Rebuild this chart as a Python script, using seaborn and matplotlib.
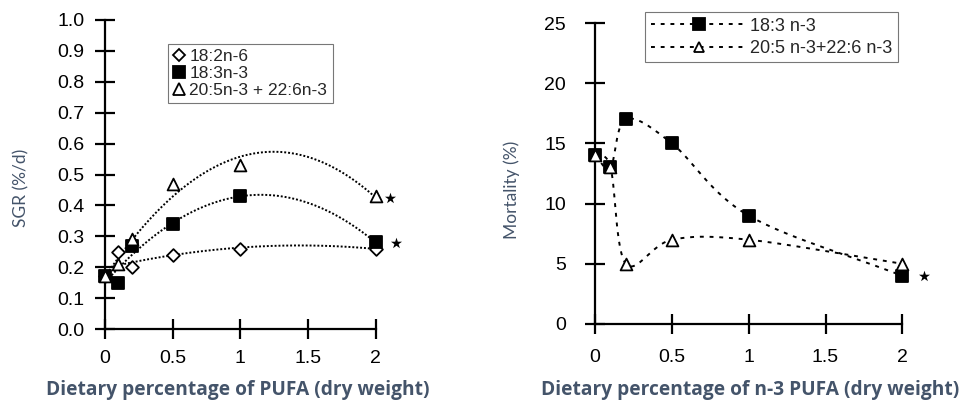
import numpy as np
import pandas as pd
import seaborn as sns
import matplotlib.pyplot as plt
from matplotlib.lines import Line2D

# left panel: SGR vs dietary PUFA
pufa = [0, 0.1, 0.2, 0.5, 1, 2]
sgr_182n6 = [0.17, 0.25, 0.20, 0.24, 0.26, 0.26]
sgr_183n3 = [0.17, 0.15, 0.27, 0.34, 0.43, 0.28]
sgr_hufa = [0.17, 0.21, 0.29, 0.47, 0.53, 0.43]
left_labels = ["18:2n-6", "18:3n-3", "20:5n-3 + 22:6n-3"]

# right panel: mortality vs dietary n-3 PUFA
n3 = [0, 0.1, 0.2, 0.5, 1, 2]
mort_183n3 = [14, 13, 17, 15, 9, 4]
mort_hufa = [14, 13, 5, 7, 7, 5]
right_labels = ["18:3 n-3", "20:5 n-3+22:6 n-3"]

x_ticks = [0, 0.5, 1, 1.5, 2]
x_ticklabels = ["0", "0.5", "1", "1.5", "2"]

LABEL_COLOR = "#44546A"


def catmull_rom(xs, ys, n=30):
    """smooth line through the points (like a spreadsheet 'smoothed line')"""
    p = np.column_stack([xs, ys]).astype(float)
    p = np.vstack([2 * p[0] - p[1], p, 2 * p[-1] - p[-2]])
    out = []
    t = np.linspace(0, 1, n)[:, None]
    for i in range(1, len(p) - 2):
        p0, p1, p2, p3 = p[i - 1], p[i], p[i + 1], p[i + 2]
        seg = 0.5 * ((2 * p1) + (-p0 + p2) * t + (2 * p0 - 5 * p1 + 4 * p2 - p3) * t ** 2
                     + (-p0 + 3 * p1 - 3 * p2 + p3) * t ** 3)
        out.append(seg)
    out = np.vstack(out)
    return out[:, 0], out[:, 1]


def style_axes(ax, xpad, ypad):
    sns.despine(ax=ax)
    for s in ("left", "bottom"):
        ax.spines[s].set_linewidth(1.6)
        ax.spines[s].set_color("black")
    ax.tick_params(direction="inout", length=14, width=1.6, colors="black", labelsize=14)
    ax.tick_params(axis="x", pad=xpad)
    ax.tick_params(axis="y", pad=ypad)
    ax.set_xticks(x_ticks)
    ax.set_xticklabels(x_ticklabels)
    for t in ax.get_xticklabels() + ax.get_yticklabels():
        t.set_family("Liberation Sans")
    ax.set_xlim(0, 2)


sns.set_theme(style="ticks")
plt.rcParams["font.family"] = ["Liberation Sans", "DejaVu Sans"]

fig = plt.figure(figsize=(9.63, 4.0), dpi=100)
ax1 = fig.add_axes([0.109, 0.1775, 0.281, 0.7725])
ax2 = fig.add_axes([0.618, 0.19, 0.319, 0.7525])

# ---- left panel ----
series = [(sgr_182n6, "D", "white", 6.5), (sgr_183n3, "s", "black", 8.5), (sgr_hufa, "^", "white", 8.5)]
xs = np.linspace(0.03, 2, 200)
for vals, mk, fc, ms in series:
    coef = np.polyfit(pufa, vals, 2)
    fit = pd.DataFrame({"x": xs, "y": np.polyval(coef, xs)})
    sns.lineplot(data=fit, x="x", y="y", ax=ax1, color="black", lw=1.4,
                 linestyle=(0, (1, 1)), legend=False)
    df = pd.DataFrame({"x": pufa, "y": vals})
    sns.scatterplot(data=df, x="x", y="y", ax=ax1, marker=mk, s=ms ** 2,
                    facecolor=fc, edgecolor="black", linewidth=1.3,
                    clip_on=False, zorder=5, legend=False)
stars1 = pd.DataFrame({"x": [2.11, 2.15], "y": [sgr_hufa[-1] - 0.005, sgr_183n3[-1] - 0.002]})
sns.scatterplot(data=stars1, x="x", y="y", ax=ax1, marker="*", s=70, color="black",
                linewidth=0, clip_on=False, legend=False)

ax1.set_ylim(0, 1.0)
ax1.set_yticks(np.arange(0, 1.01, 0.1))
ax1.set_yticklabels([f"{v:.1f}" for v in np.arange(0, 1.01, 0.1)])
style_axes(ax1, xpad=8, ypad=8)
ax1.set_xlabel("")
ax1.set_ylabel("SGR (%/d)", family="Lato", fontsize=12.5, color=LABEL_COLOR)
ax1.yaxis.set_label_coords(-0.28, 0.456)

handles1 = [Line2D([], [], ls="none", marker=mk, ms=ms * 0.95, mfc=fc, mec="black", mew=1.3)
            for _, mk, fc, ms in series]
leg1 = ax1.legend(handles1, left_labels, loc="upper left", bbox_to_anchor=(0.232, 0.922),
                  fontsize=12.5, frameon=True, fancybox=False, edgecolor="#555555",
                  handlelength=0.7, handletextpad=0.25, borderpad=0.3, labelspacing=0.1,
                  borderaxespad=0)
leg1.get_frame().set_linewidth(0.8)

# ---- right panel ----
rseries = [(mort_183n3, "s", "black", 9), (mort_hufa, "^", "white", 8.5)]
for vals, mk, fc, ms in rseries:
    cx, cy = catmull_rom(n3, vals)
    curve = pd.DataFrame({"x": cx, "y": cy})
    sns.lineplot(data=curve, x="x", y="y", ax=ax2, sort=False, estimator=None,
                 color="black", lw=1.4, linestyle=(0, (2, 3)), legend=False)
    df = pd.DataFrame({"x": n3, "y": vals})
    sns.scatterplot(data=df, x="x", y="y", ax=ax2, marker=mk, s=ms ** 2,
                    facecolor=fc, edgecolor="black", linewidth=1.3,
                    clip_on=False, zorder=5, legend=False)
stars2 = pd.DataFrame({"x": [2.14], "y": [4.0]})
sns.scatterplot(data=stars2, x="x", y="y", ax=ax2, marker="*", s=70, color="black",
                linewidth=0, clip_on=False, legend=False)

ax2.set_ylim(0, 25)
ax2.set_yticks([0, 5, 10, 15, 20, 25])
style_axes(ax2, xpad=11, ypad=14)
ax2.set_xlabel("")
ax2.set_ylabel("Mortality (%)", family="Lato", fontsize=12.5, color=LABEL_COLOR)
ax2.yaxis.set_label_coords(-0.245, 0.445)

handles2 = [Line2D([], [], color="black", lw=1.4, ls=(0, (2, 3)), marker=mk, ms=ms * 0.9,
                   mfc=fc, mec="black", mew=1.3) for _, mk, fc, ms in rseries]
leg2 = ax2.legend(handles2, right_labels, loc="upper left", bbox_to_anchor=(0.163, 1.036),
                  fontsize=13, frameon=True, fancybox=False, edgecolor="#555555",
                  handlelength=5.4, handletextpad=0.1, borderpad=0.3, labelspacing=0.3,
                  borderaxespad=0)
leg2.get_frame().set_linewidth(0.8)

# x-axis titles sit well below the plots
fig.text(238 / 963, 1 - 390 / 400, "Dietary percentage of PUFA (dry weight)",
         family="Open Sans", fontweight="bold", fontsize=13.8, color=LABEL_COLOR,
         ha="center", va="center")
fig.text(750 / 963, 1 - 390 / 400, "Dietary percentage of n-3 PUFA (dry weight)",
         family="Open Sans", fontweight="bold", fontsize=13.8, color=LABEL_COLOR,
         ha="center", va="center")

fig.savefig("out.png", dpi=100, facecolor="white")
